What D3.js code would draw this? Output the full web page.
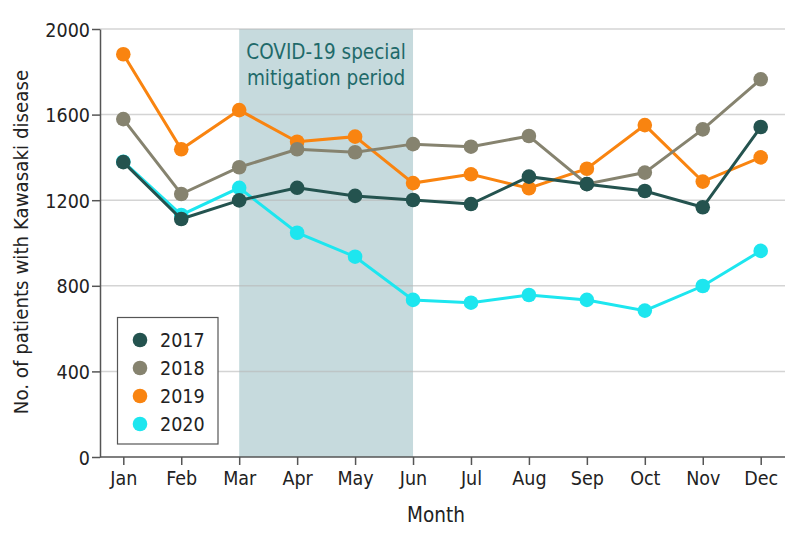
<!DOCTYPE html>
<html><head><meta charset="utf-8">
<script src="https://cdn.jsdelivr.net/npm/d3@7"></script>
<style>body{margin:0;background:#fff}svg{display:block}text{font-family:"DejaVu Sans Condensed","DejaVu Sans",sans-serif}</style>
</head><body><svg id="c" width="794" height="542"></svg>
<script>
const months = ["Jan","Feb","Mar","Apr","May","Jun","Jul","Aug","Sep","Oct","Nov","Dec"];
const yTicks = [0,400,800,1200,1600,2000];
const years = ["2017","2018","2019","2020"];
const colors = ["#24534f","#86836f","#f98410","#1de6ef"];
const v2017 = [1378,1112,1199,1258,1220,1201,1182,1310,1275,1243,1167,1542];
const v2018 = [1579,1229,1354,1438,1424,1462,1450,1500,1276,1329,1531,1765];
const v2019 = [1882,1438,1621,1473,1497,1280,1321,1256,1347,1551,1287,1400];
const v2020 = [1380,1131,1258,1048,936,734,721,757,734,684,799,963];
const series = [v2017,v2018,v2019,v2020];
const shadeStart = "Mar", shadeEnd = "Jun";

const FONT = '"DejaVu Sans Condensed","DejaVu Sans",sans-serif';
const svg = d3.select("#c");
const L=100, R=785, T=29, B=457;
const x = d3.scalePoint().domain(months).range([123.3,760.7]);
const y = d3.scaleLinear().domain([0,2000]).range([B,T]);

// shaded period
svg.append("rect").attr("x",x(shadeStart)).attr("y",T).attr("width",x(shadeEnd)-x(shadeStart)).attr("height",B-T).attr("fill","#c6dadd");

// gridlines
svg.append("g").selectAll("line").data(yTicks.filter(d=>d>0)).join("line")
  .attr("x1",L).attr("x2",R).attr("y1",d=>y(d)).attr("y2",d=>y(d))
  .attr("stroke","#b8b8b8").attr("stroke-opacity",0.6).attr("stroke-width",1.5);

// shade label
const cx=(x(shadeStart)+x(shadeEnd))/2;
svg.append("text").attr("x",cx).attr("y",59).attr("text-anchor","middle").attr("fill","#1f6a6a").attr("font-size",20.5).text("COVID-19 special");
svg.append("text").attr("x",cx).attr("y",85).attr("text-anchor","middle").attr("fill","#1f6a6a").attr("font-size",20.5).text("mitigation period");

// axes
const yAxis = svg.append("g").attr("transform",`translate(${L},0)`).call(d3.axisLeft(y).tickValues(yTicks).tickFormat(d3.format("d")).tickSize(8).tickSizeOuter(0));
const xAxis = svg.append("g").attr("transform",`translate(0,${B})`).call(d3.axisBottom(x).tickSize(8).tickSizeOuter(0));
xAxis.select(".domain").attr("d",`M${L},0H${R}`);
[yAxis,xAxis].forEach(a=>{
  a.attr("font-family",FONT).attr("font-size",19.5);
  a.select(".domain").attr("stroke","#555").attr("stroke-width",1.5);
  a.selectAll(".tick line").attr("stroke","#555").attr("stroke-width",1.5);
  a.selectAll(".tick text").attr("fill","#222");
});
yAxis.selectAll(".tick text").attr("x",-10).attr("dy","0.36em");
xAxis.selectAll(".tick text").attr("y",13).attr("dy","0.76em");

// series (draw 2020 first so 2017 on top)
const line = d3.line().x((d,i)=>x(months[i])).y(d=>y(d));
for (let k=series.length-1;k>=0;k--){
  const g = svg.append("g");
  g.append("path").datum(series[k]).attr("d",line).attr("fill","none").attr("stroke",colors[k]).attr("stroke-width",3);
  g.selectAll("circle").data(series[k]).join("circle").attr("cx",(d,i)=>x(months[i])).attr("cy",d=>y(d)).attr("r",7.3).attr("fill",colors[k]);
}

// axis titles
svg.append("text").attr("x",436).attr("y",521.5).attr("text-anchor","middle").attr("font-size",20.5).attr("fill","#222").text("Month");
svg.append("text").attr("transform","translate(28,242) rotate(-90)").attr("text-anchor","middle").attr("font-size",20.3).attr("fill","#222").text("No. of patients with Kawasaki disease");

// legend
const lg = svg.append("g");
lg.append("rect").attr("x",117.5).attr("y",317.5).attr("width",100.5).attr("height",126.5).attr("fill","#fff").attr("stroke","#555").attr("stroke-width",1.2);
years.forEach((yr,i)=>{
  const cy = 340 + i*28;
  lg.append("circle").attr("cx",140).attr("cy",cy).attr("r",7.3).attr("fill",colors[i]);
  lg.append("text").attr("x",160).attr("y",cy).attr("dy","0.36em").attr("font-size",19.5).attr("fill","#222").text(yr);
});
</script></body></html>
